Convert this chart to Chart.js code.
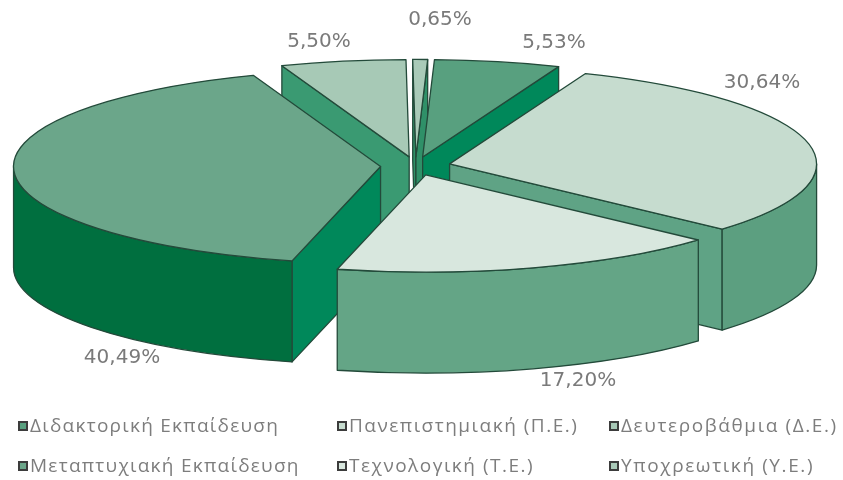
<!DOCTYPE html>
<html>
<head>
<meta charset="utf-8">
<style>
    html, body { margin: 0; padding: 0; background: #fff; }
    #wrap { position: relative; width: 843px; height: 480px; overflow: hidden; filter: blur(0.7px); }
    #legend span { position: absolute; white-space: nowrap; font: 19px "Open Sans", sans-serif; color: #7d7d7d; line-height: 24px; }
    #legend i { position: absolute; width: 6px; height: 6px; border: 2px solid #3c3c3c; }
</style>
<script src="https://cdn.jsdelivr.net/npm/chart.js@4"></script>
</head>
<body>
<div id="wrap">
    <canvas id="pie" width="843" height="480"></canvas>
    <div id="legend"></div>
</div>
<script>
var categories = ['Υποχρεωτική (Υ.Ε.)', 'Διδακτορική Εκπαίδευση', 'Πανεπιστημιακή (Π.Ε.)', 'Τεχνολογική (Τ.Ε.)', 'Μεταπτυχιακή Εκπαίδευση', 'Δευτεροβάθμια (Δ.Ε.)'];
var shares = [0.65, 5.53, 30.64, 17.20, 40.49, 5.50];
var topColors = ['#a9cab8', '#58a07f', '#c6dccf', '#d8e7de', '#6ba68a', '#a7c9b6'];
var rimColors = ['#2f9068', '#00804f', '#5c9f80', '#64a586', '#006f3f', '#3a9a72'];
var wallColors = ['#2f9068', '#00885a', '#5fa385', '#64a586', '#00885a', '#3a9a72'];
var legendOrder = [1, 2, 5, 4, 3, 0];
var labelSpots = [[440, 20], [554, 43], [762, 83], [578, 381], [122, 358], [319, 42]];

var squash = 0.265;
var depth = 101;
var explode = 35;

var drawPie3d = {
    id: 'pie3d',
    beforeDatasetDraw: function (chart, args) {
        var ctx = chart.ctx;
        var arcs = chart.getDatasetMeta(args.index).data.map(function (arc, i) {
            return {arc: arc, i: i, mid: (arc.startAngle + arc.endAngle) / 2};
        });
        arcs.sort(function (a, b) { return Math.sin(a.mid) - Math.sin(b.mid); });
        ctx.save();
        ctx.strokeStyle = '#234a3a';
        ctx.lineWidth = 1.3;
        ctx.lineJoin = 'round';
        arcs.forEach(function (item) {
            var arc = item.arc, a0 = arc.startAngle, a1 = arc.endAngle, R = arc.outerRadius;
            var ox = arc.x + explode * Math.cos(item.mid);
            var oy = arc.y + explode * squash * Math.sin(item.mid);
            var px = function (a) { return ox + R * Math.cos(a); };
            var py = function (a) { return oy + R * squash * Math.sin(a); };
            var wall = function (a) {
                ctx.beginPath();
                ctx.moveTo(ox, oy);
                ctx.lineTo(px(a), py(a));
                ctx.lineTo(px(a), py(a) + depth);
                ctx.lineTo(ox, oy + depth);
                ctx.closePath();
                ctx.fillStyle = wallColors[item.i];
                ctx.fill();
                ctx.stroke();
            };
            if (Math.cos(a0) < 0) wall(a0);
            if (Math.cos(a1) > 0) wall(a1);
            // outer rim, only the part that faces the viewer
            [-2 * Math.PI, 0, 2 * Math.PI].forEach(function (k) {
                var lo = Math.max(a0, k), hi = Math.min(a1, k + Math.PI);
                if (hi <= lo) return;
                ctx.beginPath();
                ctx.ellipse(ox, oy, R, R * squash, 0, lo, hi);
                ctx.ellipse(ox, oy + depth, R, R * squash, 0, hi, lo, true);
                ctx.closePath();
                ctx.fillStyle = rimColors[item.i];
                ctx.fill();
                ctx.stroke();
            });
            ctx.beginPath();
            ctx.moveTo(ox, oy);
            ctx.ellipse(ox, oy, R, R * squash, 0, a0, a1);
            ctx.closePath();
            ctx.fillStyle = arc.options.backgroundColor;
            ctx.fill();
            ctx.stroke();
        });
        ctx.fillStyle = '#7a7a7a';
        ctx.font = '20px "DejaVu Sans", sans-serif';
        ctx.textAlign = 'center';
        ctx.textBaseline = 'middle';
        shares.forEach(function (v, i) {
            ctx.fillText(v.toFixed(2).replace('.', ',') + '%', labelSpots[i][0], labelSpots[i][1]);
        });
        ctx.restore();
        return false;
    }
};

new Chart(document.getElementById('pie').getContext('2d'), {
    type: 'pie',
    data: {
        labels: categories,
        datasets: [{data: shares, backgroundColor: topColors, borderWidth: 0}]
    },
    options: {
        responsive: false,
        animation: false,
        radius: 367,
        rotation: -0.5,
        layout: {padding: {left: 0, right: 12, top: 0, bottom: 148}},
        plugins: {legend: {display: false}, tooltip: {enabled: false}}
    },
    plugins: [drawPie3d]
});

var legendBox = document.getElementById('legend');
var legendCols = [18, 337, 609];
var legendRows = [413, 453];
var legendSpacing = [1.25, 1.5, 1.6];
legendOrder.forEach(function (idx, n) {
    var col = n % 3, row = Math.floor(n / 3);
    var mark = document.createElement('i');
    mark.style.left = legendCols[col] + 'px';
    mark.style.top = (legendRows[row] + 8) + 'px';
    mark.style.background = topColors[idx];
    legendBox.appendChild(mark);
    var text = document.createElement('span');
    text.textContent = categories[idx];
    text.style.left = (legendCols[col] + 12) + 'px';
    text.style.top = legendRows[row] + 'px';
    text.style.letterSpacing = legendSpacing[col] + 'px';
    legendBox.appendChild(text);
});
</script>
</body>
</html>
